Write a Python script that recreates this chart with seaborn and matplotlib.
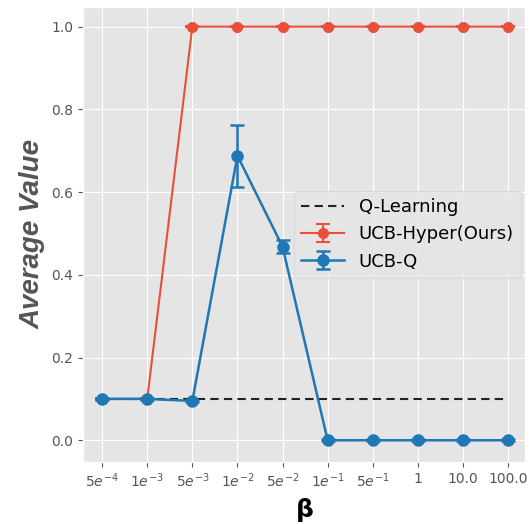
import matplotlib
matplotlib.use("Agg")
import matplotlib.pyplot as plt
import seaborn as sns
import numpy as np
import pandas as pd

betas = [r'$5e^{-4}$', r'$1e^{-3}$', r'$5e^{-3}$', r'$1e^{-2}$', r'$5e^{-2}$',
         r'$1e^{-1}$', r'$5e^{-1}$', '1', '10.0', '100.0']
q_learning = [0.1] * 10
ucb_hyper = [0.1, 0.1, 1.0, 1.0, 1.0, 1.0, 1.0, 1.0, 1.0, 1.0]
ucb_hyper_err = [0.002, 0.002, 0.002, 0.002, 0.002, 0.002, 0.002, 0.002, 0.002, 0.002]
ucb_q = [0.1, 0.1, 0.095, 0.688, 0.468, 0.0, 0.0, 0.0, 0.0, 0.0]
ucb_q_err = [0.002, 0.002, 0.002, 0.075, 0.016, 0.002, 0.002, 0.002, 0.002, 0.002]

plt.style.use('ggplot')
fig, ax = plt.subplots(figsize=(5.3, 5.24), dpi=100)
x = np.arange(len(betas))

df = pd.DataFrame({'x': x, 'q': q_learning})
sns.lineplot(data=df, x='x', y='q', ax=ax, color='#222222', linestyle='--',
             linewidth=1.5, label='Q-Learning')
ax.lines[-1].set_dashes([4, 2.5])

ax.errorbar(x, ucb_hyper, yerr=ucb_hyper_err, color='#E8503A', marker='o',
            markersize=7, linewidth=1.5, capsize=5, capthick=1.5,
            label='UCB-Hyper(Ours)')
ax.errorbar(x, ucb_q, yerr=ucb_q_err, color='#1f77b4', marker='o',
            markersize=8, linewidth=1.8, capsize=5, capthick=1.8,
            label='UCB-Q')

ax.set_xticks(x)
ax.set_xticklabels(betas, fontsize=10, color='#555555')
ax.set_yticks([0.0, 0.2, 0.4, 0.6, 0.8, 1.0])
ax.tick_params(axis='y', labelsize=10, labelcolor='#555555')
ax.set_ylim(-0.053, 1.048)
ax.set_xlim(-0.42, 9.37)
ax.set_xlabel(r'$\mathbf{\beta}$', fontsize=18, color='black', fontweight='bold')
ax.set_ylabel('Average Value', fontsize=20, color='#555555',
              fontweight='bold', fontstyle='italic', family='Liberation Sans',
              labelpad=4)

ax.legend(loc='center right', fontsize=13, bbox_to_anchor=(1.012, 0.5),
          handlelength=2.4, facecolor='#E5E5E5', framealpha=0.8)

fig.subplots_adjust(left=0.157, right=0.99, top=0.987, bottom=0.118)
fig.savefig('out.png', dpi=100)
